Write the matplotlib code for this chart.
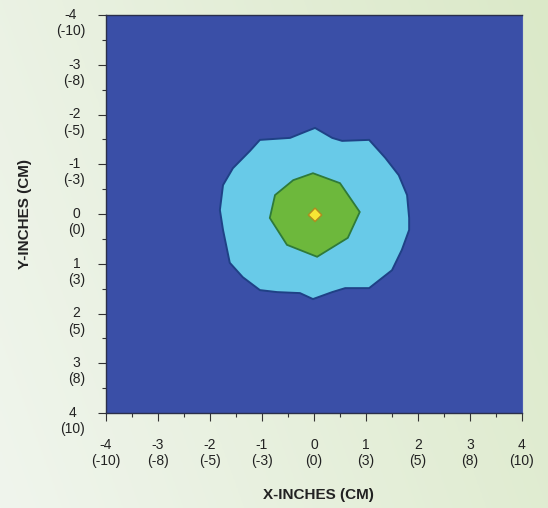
import numpy as np
import matplotlib
matplotlib.use("Agg")
import matplotlib.pyplot as plt
from matplotlib.transforms import ScaledTranslation, blended_transform_factory

plt.rcParams['font.family'] = ['Liberation Sans', 'DejaVu Sans']

# ---- data (inches) ----
tick_in = [-4, -3, -2, -1, 0, 1, 2, 3, 4]
tick_cm = [-10, -8, -5, -3, 0, 3, 5, 8, 10]

# outer (light blue) contour boundary
outer_x = [0.02, 0.35, 0.54, 1.06, 1.37, 1.63, 1.79, 1.83, 1.83, 1.69, 1.50, 1.06,
           0.60, 0.35, -0.02, -0.27, -0.71, -1.04, -1.37, -1.62, -1.75, -1.81,
           -1.75, -1.56, -1.23, -1.04, -0.46, -0.08]
outer_y = [-1.73, -1.53, -1.47, -1.49, -1.13, -0.78, -0.38, 0.08, 0.32, 0.72, 1.13, 1.49,
           1.49, 1.57, 1.71, 1.59, 1.57, 1.53, 1.27, 0.98, 0.32, -0.08,
           -0.58, -0.92, -1.27, -1.49, -1.53, -1.69]

# middle (green) contour boundary
mid_x = [-0.02, 0.50, 0.88, 0.65, 0.06, -0.52, -0.85, -0.75, -0.40]
mid_y = [-0.82, -0.62, -0.04, 0.48, 0.86, 0.62, 0.08, -0.38, -0.68]

# inner (yellow) contour boundary
inner_x = [0.02, 0.15, 0.02, -0.11]
inner_y = [-0.12, 0.02, 0.15, 0.02]

# ---- colours ----
c_bg_plot = '#3a4fa7'
c_outer = '#68cae8'
c_outer_edge = '#1f4186'
c_mid = '#6db83c'
c_mid_edge = '#2f7a3a'
c_inner = '#f6e634'
c_inner_edge = '#b08a20'

fig = plt.figure(figsize=(5.48, 5.08), dpi=100)

# gradient figure background
bgax = fig.add_axes([0, 0, 1, 1], zorder=-10)
gx = np.linspace(0, 1, 200)
gy = np.linspace(0, 1, 200)
GX, GY = np.meshgrid(gx, gy)
t = np.clip(0.75 * GX + 0.25 * (1 - GY), 0, 1)
c0 = np.array([240, 245, 237]) / 255.0
c1 = np.array([219, 233, 200]) / 255.0
img = c0[None, None, :] * (1 - t[..., None]) + c1[None, None, :] * t[..., None]
bgax.imshow(img, aspect='auto', extent=[0, 1, 0, 1], origin='upper')
bgax.axis('off')

ax = fig.add_axes([106 / 548, 1 - 413 / 508, 416 / 548, 398 / 508])
ax.set_facecolor(c_bg_plot)
ax.set_xlim(-4, 4)
ax.set_ylim(4, -4)

ax.fill(outer_x, outer_y, facecolor=c_outer, edgecolor=c_outer_edge, linewidth=1.4, zorder=2)
ax.fill(mid_x, mid_y, facecolor=c_mid, edgecolor=c_mid_edge, linewidth=1.3, zorder=3)
ax.fill(inner_x, inner_y, facecolor=c_inner, edgecolor=c_inner_edge, linewidth=1.0, zorder=4)

labels = [f"{i}\n({c})" for i, c in zip(tick_in, tick_cm)]
ax.set_xticks(tick_in)
ax.set_yticks(tick_in)
ax.set_xticks(np.arange(-4, 4.01, 0.5), minor=True)
ax.set_yticks(np.arange(-4, 4.01, 0.5), minor=True)

ax.tick_params(which='major', direction='out', length=6, width=0.8, color='#333333')
ax.tick_params(which='minor', direction='out', length=3, width=0.8, color='#333333')
ax.tick_params(axis='x', which='major', pad=12)
ax.tick_params(top=False, right=False, which='both')

ax.set_xticklabels(labels, fontsize=10, color='#222222', linespacing=1.2)
for lab in ax.get_xticklabels():
    lab.set_multialignment('center')

# y tick labels drawn as text next to each tick (first line level with the tick)
ax.set_yticklabels([])
ytrans = blended_transform_factory(ax.transAxes, ax.transData) + \
    ScaledTranslation(-21 / 100, -8 / 100, fig.dpi_scale_trans)
for v, lab in zip(tick_in, labels):
    ax.text(0, v, lab, transform=ytrans, ha='right', va='center', multialignment='center',
            fontsize=10, color='#222222', linespacing=1.2, clip_on=False)

for s in ['left', 'bottom', 'top']:
    ax.spines[s].set_color('#2a2f4a')
    ax.spines[s].set_linewidth(1.0)
ax.spines['right'].set_color('#4a5cb0')

fig.text(318 / 548, 1 - 495 / 508, 'X-INCHES (CM)', ha='center', va='center',
         fontsize=11, fontweight='bold', color='#222222')
fig.text(25 / 548, 1 - 214 / 508, 'Y-INCHES (CM)', ha='center', va='center',
         rotation=90, fontsize=11, fontweight='bold', color='#222222')

fig.savefig('out.png', dpi=100)
